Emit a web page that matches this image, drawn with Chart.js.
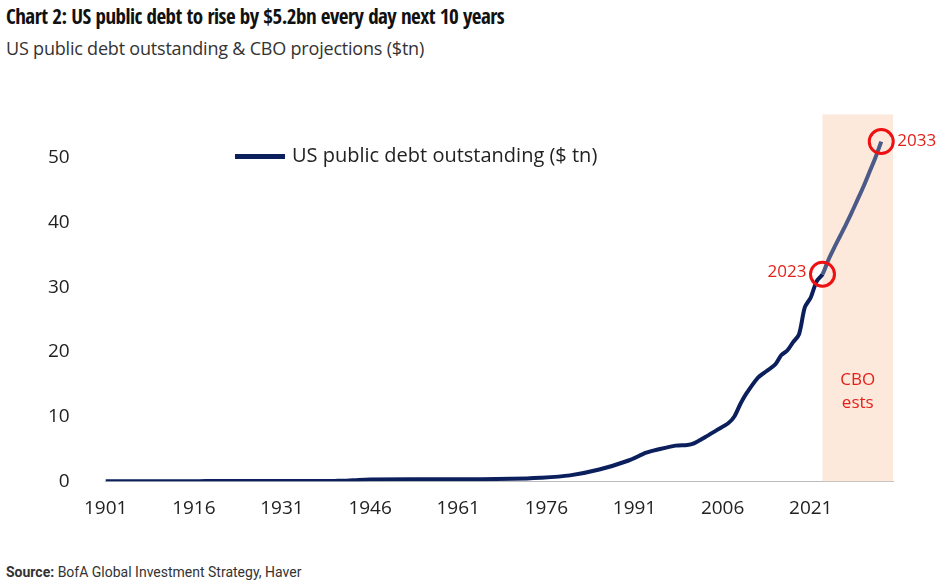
<!DOCTYPE html>
<html>
<head>
<meta charset="utf-8">
<script src="https://cdn.jsdelivr.net/npm/chart.js@4"></script>
<style>
  body { margin: 0; width: 948px; height: 587px; background: #fff; font-family: "Open Sans", sans-serif; position: relative; overflow: hidden; }
  #title { position: absolute; left: 6px; top: 2px; font: bold 21px "Open Sans Condensed", "Roboto Condensed", "Roboto", sans-serif; letter-spacing: -0.5px; color: #111; }
  #subtitle { position: absolute; left: 6px; top: 36px; font: 18px "Open Sans", sans-serif; color: #333; letter-spacing: -0.2px; }
  #source { position: absolute; left: 6px; top: 564px; font: 14px "Roboto", sans-serif; color: #333; }
  #wrap { position: absolute; left: 0; top: 86px; width: 948px; height: 450px; }
</style>
</head>
<body>
<div id="title">Chart 2: US public debt to rise by $5.2bn every day next 10 years</div>
<div id="subtitle">US public debt outstanding &amp; CBO projections ($tn)</div>
<div id="wrap"><canvas id="myChart"></canvas></div>
<div id="source"><b>Source:</b> BofA Global Investment Strategy, Haver</div>
<script>
// keyed years
var keyYears = [1901, 1916, 1917, 1919, 1930, 1940, 1942, 1944, 1946, 1960, 1970, 1975, 1980, 1985, 1990, 1993, 1995, 1998, 2000, 2001, 2003, 2005, 2007, 2008, 2009, 2010, 2012, 2013, 2015, 2016, 2017, 2018, 2019, 2020, 2021, 2022, 2023, 2024, 2025, 2026, 2027, 2028, 2029, 2030, 2031, 2032, 2033];
var keyDebt = [0.001, 0.003, 0.01, 0.025, 0.016, 0.05, 0.07, 0.2, 0.27, 0.29, 0.37, 0.53, 0.9, 1.8, 3.2, 4.4, 4.9, 5.5, 5.6, 5.8, 6.8, 7.9, 9.0, 10.0, 11.9, 13.5, 16.0, 16.7, 18.1, 19.5, 20.2, 21.5, 22.7, 26.9, 28.4, 30.9, 32.0, 34.2, 36.1, 37.9, 39.7, 41.6, 43.6, 45.6, 47.8, 50.0, 52.5];
var lastYear = 2035;
var projStart = 2023;

var years = [];
var debt = [];
for (var y = 1901; y <= lastYear; y++) {
    years.push(y);
    var i = keyYears.indexOf(y);
    debt.push(i >= 0 ? keyDebt[i] : null);
}

var bandPlugin = {
    id: 'band',
    beforeDatasetsDraw: function (chart) {
        var c = chart.ctx, a = chart.chartArea, x = chart.scales.x;
        var x0 = x.getPixelForValue(years.indexOf(projStart));
        c.save();
        c.fillStyle = '#fde8dc';
        c.fillRect(x0, a.top - 11, a.right - x0, a.bottom - a.top + 11);
        c.restore();
    },
    afterDatasetsDraw: function (chart) {
        var c = chart.ctx, x = chart.scales.x, yS = chart.scales.y;
        c.save();
        [projStart, 2033].forEach(function (yr) {
            var idx = years.indexOf(yr);
            var px = x.getPixelForValue(idx), py = yS.getPixelForValue(debt[idx]);
            c.beginPath();
            c.arc(px, py, 12, 0, Math.PI * 2);
            c.strokeStyle = '#ee1111';
            c.lineWidth = 3;
            c.stroke();
        });
        c.fillStyle = '#e32119';
        c.font = '17px "Open Sans", sans-serif';
        c.textBaseline = 'middle';
        var i23 = years.indexOf(2023), i33 = years.indexOf(2033);
        c.textAlign = 'right';
        c.fillText('2023', x.getPixelForValue(i23) - 16, yS.getPixelForValue(debt[i23]) - 2);
        c.textAlign = 'left';
        c.fillText('2033', x.getPixelForValue(i33) + 16, yS.getPixelForValue(debt[i33]));
        c.textAlign = 'center';
        var cx = (x.getPixelForValue(i23) + chart.chartArea.right) / 2;
        c.fillText('CBO', cx, yS.getPixelForValue(15.6));
        c.fillText('ests', cx, yS.getPixelForValue(12));
        // legend
        var ly = yS.getPixelForValue(50.2);
        c.beginPath();
        c.moveTo(235, ly); c.lineTo(285, ly);
        c.strokeStyle = '#0b1f5c'; c.lineWidth = 5; c.stroke();
        c.fillStyle = '#222';
        c.textAlign = 'left';
        c.font = '20px "Open Sans", sans-serif';
        c.fillText('US public debt outstanding ($ tn)', 292, ly);
        c.restore();
    }
};

var ctx = document.getElementById('myChart').getContext('2d');
var myChart = new Chart(ctx, {
    type: 'line',
    data: {
        labels: years,
        datasets: [{
            label: 'US public debt outstanding ($ tn)',
            data: debt,
            spanGaps: true,
            borderColor: '#0b1f5c',
            borderWidth: 4,
            pointRadius: 0,
            tension: 0.3,
            segment: {
                borderColor: function (s) { return years[s.p0DataIndex] >= projStart ? '#4b5a86' : '#0b1f5c'; }
            }
        }]
    },
    plugins: [bandPlugin],
    options: {
        responsive: true,
        maintainAspectRatio: false,
        animation: false,
        layout: { padding: { left: 20, right: 55, top: 0, bottom: 0 } },
        plugins: { legend: { display: false }, tooltip: { enabled: false } },
        scales: {
            x: {
                grid: { display: false, drawTicks: false },
                border: { color: '#bbb' },
                ticks: {
                    autoSkip: false, maxRotation: 0, color: '#222', padding: 16,
                    font: { size: 19, family: '"Open Sans", sans-serif' },
                    callback: function (v, i) { return (years[i] - 1901) % 15 === 0 ? years[i] : ''; }
                }
            },
            y: {
                min: 0, max: 55,
                grid: { display: false },
                border: { display: false },
                ticks: {
                    stepSize: 10, color: '#222', padding: 28,
                    font: { size: 19, family: '"Open Sans", sans-serif' },
                    callback: function (v) { return v <= 50 ? v : ''; }
                }
            }
        }
    }
});
</script>
</body>
</html>
